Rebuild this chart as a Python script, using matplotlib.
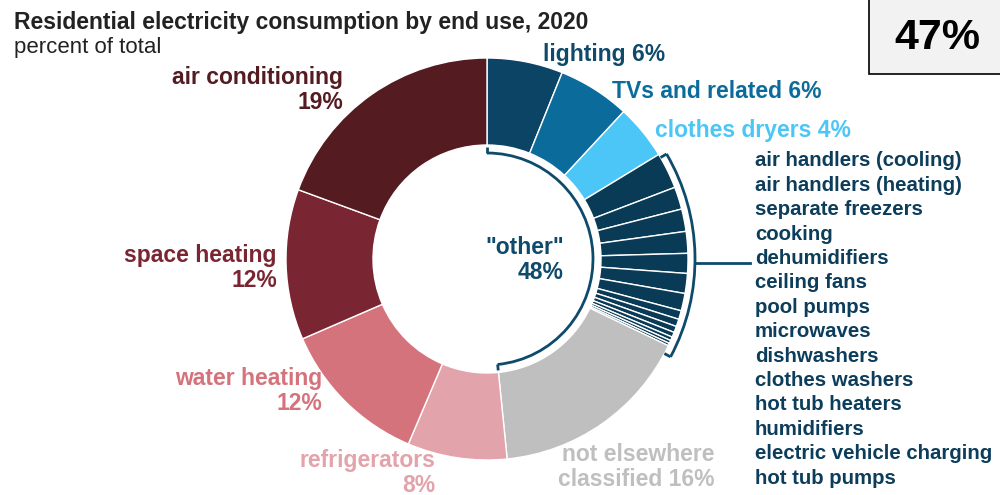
import numpy as np
import matplotlib.pyplot as plt
from matplotlib.patches import Arc, Rectangle

# residential electricity end uses, 2020 (percent of total), clockwise from top
main_labels = ["lighting", "TVs and related", "clothes dryers"]
main_values = [6.1, 5.8, 4.4]

minor_labels = ["air handlers (cooling)", "air handlers (heating)", "separate freezers",
                "cooking", "dehumidifiers", "ceiling fans", "pool pumps", "microwaves",
                "dishwashers", "clothes washers", "hot tub heaters", "humidifiers",
                "electric vehicle charging", "hot tub pumps"]
minor_values = [2.9, 1.8, 1.8, 1.75, 1.6, 1.6, 1.4, 0.7, 0.6, 0.5, 0.4, 0.3, 0.25, 0.2]

rest_labels = ["not elsewhere classified", "refrigerators", "water heating",
               "space heating", "air conditioning"]
rest_values = [16.3, 8.0, 12.1, 12.1, 19.4]

shown_pct = {"lighting": 6, "TVs and related": 6, "clothes dryers": 4,
             "not elsewhere classified": 16, "refrigerators": 8, "water heating": 12,
             "space heating": 12, "air conditioning": 19}
other_pct = 48

main_colors = ["#0c4466", "#0b6c9c", "#4cc6f6"]
minor_color = "#093a56"
rest_colors = ["#bfbfbf", "#e2a3aa", "#d4737c", "#7a2632", "#541b21"]
navy = "#0e4a6b"

H = 495
cx, cy = 487, H - 259
R, W = 201, 87


def py(y):
    return H - y


fig = plt.figure(figsize=(10, 4.95), dpi=100)
ax = fig.add_axes([0, 0, 1, 1])

values = main_values + minor_values + rest_values
colors = main_colors + [minor_color] * len(minor_values) + rest_colors
ax.pie(values, colors=colors, startangle=90, counterclock=False,
       center=(cx, cy), radius=R, frame=True,
       wedgeprops=dict(width=W, edgecolor="white", linewidth=1))

ax.set_xlim(0, 1000)
ax.set_ylim(0, H)
ax.set_aspect("equal")
ax.axis("off")

total = sum(values)


def ang(pct):
    # angle in degrees for a cumulative percentage, clockwise from 12 o'clock
    return 90 - 360 * pct / total


def bracket(a1, a2, r, hook, color, lw=2):
    ax.add_patch(Arc((cx, cy), 2 * r, 2 * r, theta1=min(a1, a2), theta2=max(a1, a2),
                     color=color, lw=lw))
    for a in (a1, a2):
        t = np.radians(a)
        ax.plot([cx + r * np.cos(t), cx + (r + hook) * np.cos(t)],
                [cy + r * np.sin(t), cy + (r + hook) * np.sin(t)],
                color=color, lw=lw, solid_capstyle="butt")


# inner bracket around the "other" group
other_end = sum(main_values) + sum(minor_values) + rest_values[0]
bracket(ang(0), ang(other_end), 106, 6, navy)

# outer bracket around the small end uses
m0 = sum(main_values)
m1 = m0 + sum(minor_values)
bracket(ang(m0) - 1, ang(m1) - 2.5, 208, -7, navy)
ax.plot([cx + 208, 750], [py(263), py(263)], color=navy, lw=2)

lab = dict(fontfamily="Liberation Sans", fontweight="bold", fontsize=16.5)
lst = dict(fontfamily="Liberation Sans", fontweight="bold", fontsize=14.7)

ax.text(14, py(22), "Residential electricity consumption by end use, 2020",
        fontfamily="Liberation Sans", fontweight="bold", fontsize=16.5, color="#222222",
        va="center")
ax.text(14, py(47), "percent of total", fontfamily="Liberation Sans", fontsize=16,
        color="#222222", va="center")

ax.text(543, py(55), f"lighting {shown_pct['lighting']}%", color="#0f4a6c",
        va="center", ha="left", **lab)
ax.text(612, py(92), f"TVs and related {shown_pct['TVs and related']}%", color="#0b6c9c",
        va="center", ha="left", **lab)
ax.text(655, py(130), f"clothes dryers {shown_pct['clothes dryers']}%", color="#4cc6f6",
        va="center", ha="left", **lab)

ax.text(343, py(90), f"air conditioning\n{shown_pct['air conditioning']}%",
        color="#541b21", ha="right", va="center", linespacing=1.1, **lab)
ax.text(277, py(268), f"space heating\n{shown_pct['space heating']}%",
        color="#7a2632", ha="right", va="center", linespacing=1.1, **lab)
ax.text(322, py(391), f"water heating\n{shown_pct['water heating']}%",
        color="#d4737c", ha="right", va="center", linespacing=1.1, **lab)
ax.text(435, py(473), f"refrigerators\n{shown_pct['refrigerators']}%",
        color="#e2a3aa", ha="right", va="center", linespacing=1.1, **lab)
ax.text(714, py(467), f"not elsewhere\nclassified {shown_pct['not elsewhere classified']}%",
        color="#bfbfbf", ha="right", va="center", linespacing=1.1, **lab)

ax.text(564, py(260), f'"other"\n{other_pct}%', color=navy, ha="right", va="center",
        linespacing=1.1, **lab)

for i, name in enumerate(minor_labels):
    ax.text(755, py(161 + 24.4 * i), name, color="#0c3d5b", ha="left", va="center", **lst)

ax.add_patch(Rectangle((869, py(74)), 140, 90, facecolor="#f2f2f2",
                       edgecolor="black", lw=1.2, clip_on=False))
ax.text(937, py(38), "47%", fontfamily="Liberation Sans", fontweight="bold",
        fontsize=31, ha="center", va="center", color="black")

fig.savefig("out.png", dpi=100)
